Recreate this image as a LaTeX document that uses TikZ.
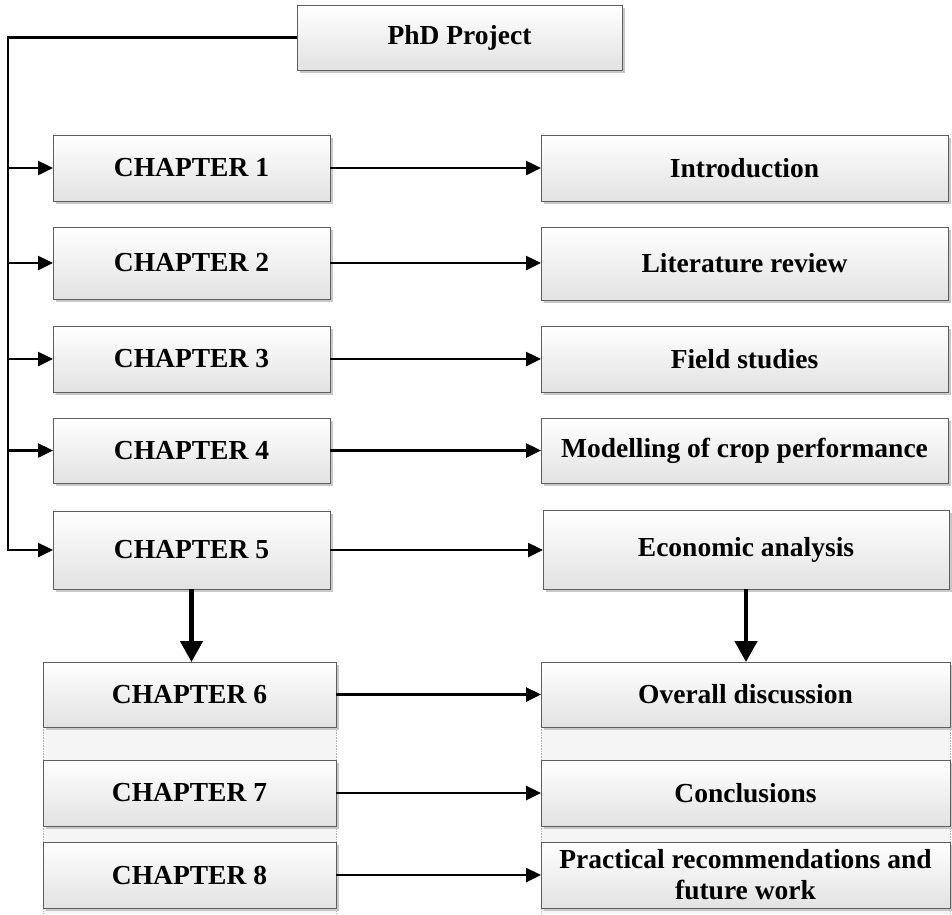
\documentclass[tikz,border=0pt]{standalone}
\usepackage{fontspec}
\setmainfont{Liberation Serif}
\usetikzlibrary{arrows.meta,shadows}
\definecolor{boxline}{RGB}{95,95,95}
\definecolor{boxbot}{RGB}{226,226,226}
\definecolor{shadecol}{RGB}{200,200,200}
\definecolor{bandcol}{RGB}{245,245,245}
\begin{document}
\begin{tikzpicture}[x=1pt,y=-1pt,
  box/.style={draw=boxline, line width=1pt, top color=white, bottom color=boxbot,
    inner sep=0pt, outer sep=0pt, align=center,
    font=\fontsize{27.5}{31}\selectfont\bfseries,
    drop shadow={shadow xshift=3pt, shadow yshift=-3pt, fill=shadecol, opacity=1}},
  conn/.style={line width=2.5pt, -{Triangle[length=15pt,width=14pt]}},
  downarr/.style={line width=4.5pt, -{Triangle[length=21pt,width=22pt]}},
  bandline/.style={draw=gray!60, line width=0.6pt, densely dotted}
]
\useasboundingbox (0,0) rectangle (952,914);

% pale bands behind the lower boxes
\fill[bandcol] (43,700) rectangle (336,914);
\draw[bandline] (43,727) -- (43,914);
\draw[bandline] (336,727) -- (336,914);
\fill[bandcol] (541,700) rectangle (950,914);
\draw[bandline] (541,727) -- (541,914);
\draw[bandline] (950,727) -- (950,914);

% top box
\node[box, minimum width=325pt, minimum height=65pt] (phd) at (459.5,37.5) {PhD Project};

% left column
\node[box, minimum width=277pt, minimum height=66pt] (c1) at (191.5,168) {CHAPTER 1};
\node[box, minimum width=277pt, minimum height=72pt] (c2) at (191.5,263) {CHAPTER 2};
\node[box, minimum width=277pt, minimum height=66pt] (c3) at (191.5,359) {CHAPTER 3};
\node[box, minimum width=277pt, minimum height=65pt] (c4) at (191.5,450.5) {CHAPTER 4};
\node[box, minimum width=277pt, minimum height=78pt] (c5) at (191.5,550) {CHAPTER 5};
\node[box, minimum width=293pt, minimum height=65pt] (c6) at (189.5,694.5) {CHAPTER 6};
\node[box, minimum width=293pt, minimum height=66pt] (c7) at (189.5,793) {CHAPTER 7};
\node[box, minimum width=293pt, minimum height=66pt] (c8) at (189.5,875) {CHAPTER 8};

% right column
\node[box, minimum width=407pt, minimum height=66pt] (r1) at (744.5,168) {Introduction};
\node[box, minimum width=407pt, minimum height=73pt] (r2) at (744.5,263.5) {Literature review};
\node[box, minimum width=407pt, minimum height=66pt] (r3) at (744.5,359) {Field studies};
\node[box, minimum width=407pt, minimum height=65pt] (r4) at (744.5,450.5) {Modelling of crop performance};
\node[box, minimum width=406pt, minimum height=79pt] (r5) at (746,549.5) {Economic analysis};
\node[box, minimum width=409pt, minimum height=65pt] (r6) at (745.5,694.5) {Overall discussion};
\node[box, minimum width=409pt, minimum height=66pt] (r7) at (745.5,793) {Conclusions};
\node[box, minimum width=409pt, minimum height=66pt] (r8) at (745.5,875) {Practical recommendations and\\future work};

% trunk
\coordinate (trunk) at (8,37.5);
\draw[conn] (phd.west) -- (trunk) |- (c5.west);
\foreach \i in {1,2,3,4}{
  \draw[conn] (trunk |- c\i.west) -- (c\i.west);
}

% horizontal connectors
\foreach \i in {1,...,8}{
  \draw[conn] (c\i.east) -- (c\i.east -| r\i.west);
}

% down arrows
\draw[downarr] (c5.south) -- (c5.south |- c6.north);
\draw[downarr] (r5.south) -- (r5.south |- r6.north);
\end{tikzpicture}
\end{document}
